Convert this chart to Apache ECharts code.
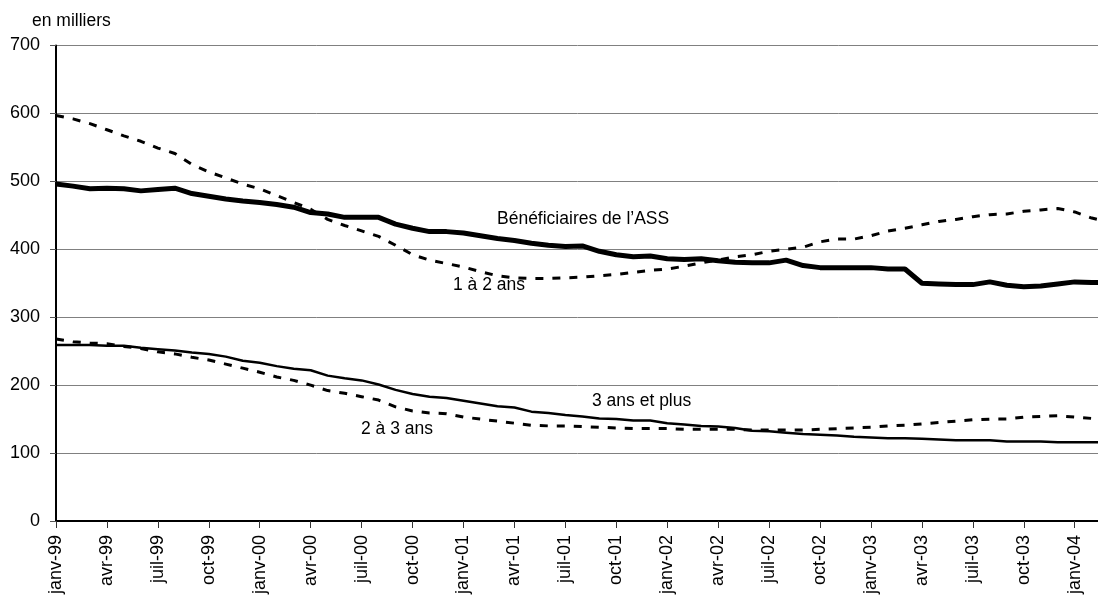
<!DOCTYPE html>
<html lang="fr">
<head>
<meta charset="utf-8">
<title>Bénéficiaires de l’ASS par ancienneté</title>
<script src="https://cdn.jsdelivr.net/npm/echarts@6/dist/echarts.min.js"></script>
<style>
  html, body { margin: 0; padding: 0; background: #fff; }
  #chart { width: 1098px; height: 595px; }
</style>
</head>
<body>
<div id="chart"></div>
<script>
// Monthly series, janv-99 to mars-04, in thousands
const monthNames = ['janv', 'févr', 'mars', 'avr', 'mai', 'juin', 'juil', 'août', 'sept', 'oct', 'nov', 'déc'];
const startYear = 1999;
const monthCount = 63;

const beneficiairesASS = [
  496, 493, 489, 490, 489, 486, 488, 490, 482, 478, 474, 471,
  469, 466, 462, 454, 452, 447, 447, 447, 437, 431, 426, 426,
  424, 420, 416, 413, 409, 406, 404, 405, 397, 392, 389, 390,
  386, 385, 386, 383, 381, 380, 380, 384, 376, 373, 373, 373,
  373, 371, 371, 350, 349, 348, 348, 352, 347, 345, 346, 349,
  352, 351, 351
];
const unADeuxAns = [
  597, 592, 585, 576, 567, 559, 549, 541, 525, 514, 505, 496,
  489, 479, 469, 459, 444, 435, 427, 419, 406, 392, 384, 379,
  374, 367, 361, 358, 357, 357, 358, 359, 361, 363, 366, 369,
  371, 375, 380, 384, 389, 392, 397, 400, 403, 411, 415, 415,
  420, 427, 431, 436, 441, 444, 448, 451, 452, 456, 458, 460,
  455, 446, 440
];
const deuxATroisAns = [
  268, 264, 262, 261, 257, 254, 249, 246, 241, 237, 231, 225,
  219, 212, 207, 200, 192, 188, 183, 178, 168, 162, 159, 158,
  153, 150, 147, 144, 141, 140, 140, 139, 138, 137, 136, 136,
  136, 135, 135, 135, 135, 134, 134, 134, 134, 135, 136, 137,
  138, 140, 141, 143, 145, 147, 149, 150, 150, 153, 154, 155,
  153, 151, 149
];
const troisAnsEtPlus = [
  259, 259, 259, 258, 258, 255, 253, 251, 248, 246, 242, 236,
  233, 228, 224, 222, 214, 210, 207, 201, 193, 187, 183, 181,
  177, 173, 169, 167, 161, 159, 156, 154, 151, 150, 148, 148,
  144, 142, 140, 139, 137, 133, 132, 130, 128, 127, 126, 124,
  123, 122, 122, 121, 120, 119, 119, 119, 117, 117, 117, 116,
  116, 116, 116
];

const yTicks = { min: 0, max: 700, step: 100 };

// Category labels such as "janv-99"
const categories = [];
for (let i = 0; i < monthCount; i++) {
  const y = startYear + Math.floor(i / 12);
  categories.push(monthNames[i % 12] + '-' + String(y % 100).padStart(2, '0'));
}

const FONT = '"Liberation Sans", Arial, sans-serif';
const chart = echarts.init(document.getElementById('chart'));

function note(text, left, midY) {
  return {
    type: 'text',
    left: left,
    top: midY - 10,
    style: { text: text, font: '17.5px ' + FONT, fill: '#000', textVerticalAlign: 'top' }
  };
}

chart.setOption({
  animation: false,
  backgroundColor: '#fff',
  grid: {
    left: 56, top: 45.5, width: 1052.7, height: 475.5,
    containLabel: false, outerBoundsMode: 'none'
  },
  xAxis: {
    type: 'category',
    data: categories,
    boundaryGap: false,
    axisLine: { show: true, lineStyle: { color: '#000', width: 2 } },
    axisTick: { show: true, interval: 2, length: 7, lineStyle: { color: '#333', width: 1 } },
    axisLabel: {
      interval: 2, rotate: 90, margin: 14,
      fontFamily: FONT, fontSize: 18, color: '#000'
    },
    splitLine: { show: false }
  },
  yAxis: {
    type: 'value',
    min: yTicks.min, max: yTicks.max, interval: yTicks.step,
    axisLine: { show: true, lineStyle: { color: '#000', width: 2 } },
    axisTick: { show: true, length: 6, lineStyle: { color: '#555', width: 1 } },
    axisLabel: { margin: 16, fontFamily: FONT, fontSize: 18, color: '#000' },
    splitLine: { show: true, lineStyle: { color: '#808080', width: 1 } }
  },
  series: [
    {
      name: '1 à 2 ans', type: 'line', data: unADeuxAns, symbol: 'none',
      lineStyle: { color: '#000', width: 3, type: [8, 9] }, z: 2
    },
    {
      name: '2 à 3 ans', type: 'line', data: deuxATroisAns, symbol: 'none',
      lineStyle: { color: '#000', width: 3, type: [8, 9] }, z: 2
    },
    {
      name: '3 ans et plus', type: 'line', data: troisAnsEtPlus, symbol: 'none',
      lineStyle: { color: '#000', width: 2.5 }, z: 3
    },
    {
      name: 'Bénéficiaires de l’ASS', type: 'line', data: beneficiairesASS, symbol: 'none',
      lineStyle: { color: '#000', width: 5 }, z: 4
    }
  ],
  graphic: [
    note('en milliers', 32, 22),
    note('Bénéficiaires de l’ASS', 497, 220),
    note('1 à 2 ans', 453, 286.5),
    note('3 ans et plus', 592, 402),
    note('2 à 3 ans', 361, 430)
  ]
});
</script>
</body>
</html>
